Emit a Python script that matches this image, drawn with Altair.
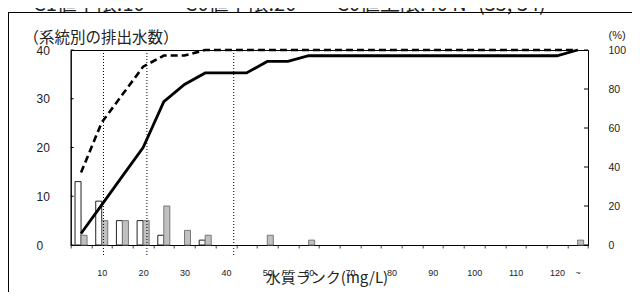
import json
import altair as alt
import pandas as pd

# ---------------- data ----------------
categories = ["5", "10", "15", "20", "25", "30", "35", "40", "45", "50", "55", "60", "65",
              "70", "75", "80", "85", "90", "95", "100", "105", "110", "115", "120", "~"]
x_labels = ["10", "20", "30", "40", "50", "60", "70", "80", "90", "100", "110", "120", "~"]
series_names = ["N1", "N2"]
white_counts = [13, 9, 5, 5, 2, 0, 1, 0, 0, 0, 0, 0, 0, 0, 0, 0, 0, 0, 0, 0, 0, 0, 0, 0, 0]
gray_counts = [2, 5, 5, 5, 8, 3, 2, 0, 0, 2, 0, 1, 0, 0, 0, 0, 0, 0, 0, 0, 0, 0, 0, 0, 1]
left_ticks = [0, 10, 20, 30, 40]
right_ticks = [0, 20, 40, 60, 80, 100]
thresholds = [10, 20, 40]          # C1 lower limit, C0 lower limit, C0 upper limit (mg/L)
header = "C1値下限:10　　C0値下限:20　　C0値上限:40  N=(35, 34)"
left_title = "（系統別の排出水数）"
right_title = "(%)"
x_title = "水質ランク(mg/L)"

# ---------------- table ----------------
rows = []
for name, counts in zip(series_names, [white_counts, gray_counts]):
    for i, (c, n) in enumerate(zip(categories, counts)):
        rows.append({"cat": c, "idx": i, "series": name, "count": n})
df = pd.DataFrame(rows)

W, H = 517.3, 195
PAD = {"left": 62.7, "top": 42, "right": 44, "bottom": 47}
JP = "Noto Sans CJK JP"
LAT = "Liberation Sans"

label_expr = "indexof(" + json.dumps(x_labels) + ", datum.value) >= 0 ? datum.label : ''"

x_enc = alt.X(
    "cat:N",
    sort=categories,
    scale=alt.Scale(domain=categories, paddingInner=0, paddingOuter=0),
    axis=alt.Axis(
        title=x_title, titleFont=JP, titleFontSize=15, titleFontWeight="normal",
        titleX=255.8, titleY=37, titleAlign="center", titleBaseline="alphabetic",
        labelExpr=label_expr, labelAngle=0, labelFontSize=9, labelPadding=20,
        labelOverlap=False, tickBand="extent", tickSize=3, tickColor="#444",
        domainColor="black", domainWidth=1.2,
    ),
)

bars = alt.Chart(df).transform_filter("datum.count > 0").mark_bar(strokeWidth=1).encode(
    x=x_enc,
    xOffset=alt.XOffset("series:N", sort=series_names,
                        scale=alt.Scale(domain=series_names, paddingOuter=0.72, paddingInner=0)),
    y=alt.Y("count:Q", scale=alt.Scale(domain=[0, 40], nice=False),
            axis=alt.Axis(values=left_ticks, tickSize=0, ticks=False, labelAlign="left",
                          labelPadding=34.7, labelFontSize=12, labelBaseline="middle",
                          title=left_title, titleFont=JP, titleFontSize=15.5,
                          titleFontWeight="normal", titleAngle=0, titleAlign="left",
                          titleBaseline="middle", titleX=-47.7, titleY=-13,
                          domainColor="black")),
    color=alt.Color("series:N", scale=alt.Scale(domain=series_names, range=["white", "#c0c0c0"]),
                    legend=None),
    stroke=alt.Stroke("series:N", scale=alt.Scale(domain=series_names, range=["#222222", "#777777"]),
                      legend=None),
)

lines_base = (
    alt.Chart(df)
    .transform_window(cum="sum(count)", sort=[alt.SortField("idx")], groupby=["series"],
                      frame=[None, 0])
    .transform_joinaggregate(total="sum(count)", groupby=["series"])
    .transform_calculate(pct="datum.cum / datum.total * 100")
)

line_white = lines_base.transform_filter(alt.datum.series == series_names[0]).mark_line(
    color="black", strokeWidth=2.6, strokeDash=[7, 4]
).encode(
    x=alt.X("cat:N", sort=categories),
    y=alt.Y("pct:Q", scale=alt.Scale(domain=[0, 100], nice=False),
            axis=alt.Axis(orient="right", values=right_ticks, ticks=False, tickSize=0,
                          labelPadding=20, labelFontSize=10.5, labelBaseline="middle",
                          title=right_title, titleFont=LAT, titleFontSize=11,
                          titleFontWeight="normal", titleAngle=0, titleAlign="left",
                          titleBaseline="middle", titleX=20, titleY=-15,
                          domainColor="black")),
    order=alt.Order("idx:Q"),
)

line_gray = lines_base.transform_filter(alt.datum.series == series_names[1]).mark_line(
    color="black", strokeWidth=2.8
).encode(
    x=alt.X("cat:N", sort=categories),
    y=alt.Y("pct:Q", scale=alt.Scale(domain=[0, 100], nice=False), axis=None),
    order=alt.Order("idx:Q"),
)

lticks = alt.Chart(pd.DataFrame({"v": left_ticks})).mark_rule(color="black").encode(
    y=alt.Y("v:Q", scale=alt.Scale(domain=[0, 40], nice=False), axis=None),
    x=alt.value(0), x2=alt.value(3),
)
rticks = alt.Chart(pd.DataFrame({"v": right_ticks})).mark_rule(color="black").encode(
    y=alt.Y("v:Q", scale=alt.Scale(domain=[0, 100], nice=False), axis=None),
    x=alt.value(W - 4), x2=alt.value(W),
)

inner = alt.layer(bars, lticks, rticks, line_gray, line_white).resolve_scale(y="independent")

rules = alt.Chart(pd.DataFrame({"mg": thresholds})).mark_rule(
    color="black", strokeWidth=1, strokeDash=[1, 2]
).encode(
    x=alt.X("mg:Q", scale=alt.Scale(domain=[2.45, 121.6], nice=False, zero=False), axis=None),
    y=alt.value(0), y2=alt.value(H + 10),
)

text_df = pd.DataFrame({"t": [header]})
head = alt.Chart(text_df).mark_text(
    align="left", baseline="alphabetic", font=JP, fontSize=20, color="#222"
).encode(text="t:N", x=alt.value(-37.7), y=alt.value(-39.5))

frame_left = alt.Chart(text_df).mark_rule(color="black", strokeWidth=1).encode(
    x=alt.value(-62.2), y=alt.value(-38), y2=alt.value(H + PAD["bottom"])
)
frame_top = alt.Chart(text_df).mark_rule(color="black", strokeWidth=1).encode(
    x=alt.value(-62.7), x2=alt.value(W + PAD["right"]), y=alt.value(-37.5)
)

chart = (
    alt.layer(inner, rules, head, frame_left, frame_top)
    .resolve_scale(x="independent")
    .properties(
        width=W, height=H,
        autosize=alt.AutoSizeParams(type="none"),
        padding=PAD,
    )
    .configure_view(stroke="black", strokeWidth=1)
    .configure_axis(grid=False, labelColor="#222", titleColor="#222", labelFont=LAT)
)

chart.save("out.html", embed_options={"renderer": "svg", "actions": False})
